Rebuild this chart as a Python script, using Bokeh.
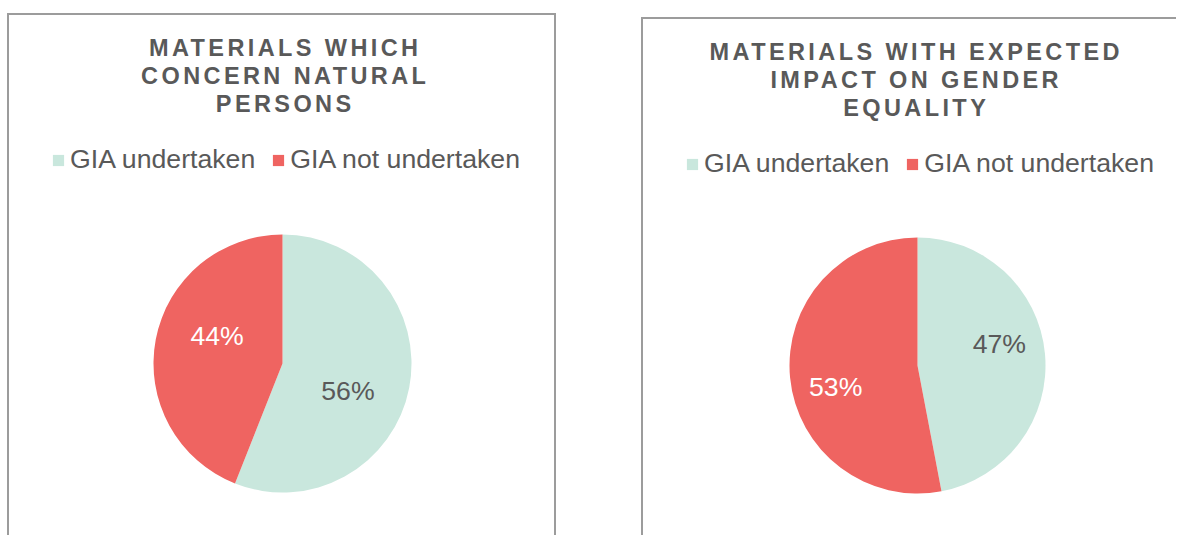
import math
from bokeh.plotting import figure
from bokeh.models import ColumnDataSource, Range1d, Spacer
from bokeh.layouts import row, column
from bokeh.core.properties import value
from bokeh.embed import file_html
from bokeh.resources import INLINE

# ---------------- data ----------------
categories = ["GIA undertaken", "GIA not undertaken"]
left_values = [56, 44]
right_values = [47, 53]
left_title = ["MATERIALS WHICH", "CONCERN NATURAL", "PERSONS"]
right_title = ["MATERIALS WITH EXPECTED", "IMPACT ON GENDER", "EQUALITY"]

# ---------------- style ----------------
slice_colors = ["#C9E7DD", "#EF6461"]
label_colors = ["#595959", "#FFFFFF"]
FONT = "Liberation Sans"
TEXT_COLOR = "#595959"
BORDER = "2px solid #9C9C9C"
LS = 3.4          # title letter spacing (px)
TITLE_FS = 23.5
TITLE_H = 122


def base_fig(width, height, xr, yr, styles=None):
    kw = dict(width=width, height=height, x_range=xr, y_range=yr, title=None,
              output_backend="svg", toolbar_location=None, min_border=0,
              x_axis_type=None, y_axis_type=None, outline_line_color=None,
              background_fill_color="white", border_fill_color="white")
    if styles:
        kw["styles"] = styles
    return figure(**kw)


def title_fig(lines, width, cx):
    h = TITLE_H
    p = base_fig(width, h, Range1d(0, width), Range1d(0, h),
                 styles={"letter-spacing": f"{LS}px"})
    ys = [h - 32 - 28 * i for i in range(len(lines))]
    offs = [-(len(s) - 1) * LS / 2 for s in lines]
    src = ColumnDataSource(dict(x=[cx] * len(lines), y=ys, t=lines, o=offs))
    p.text(x="x", y="y", text="t", x_offset="o", source=src,
           text_font=value(FONT), text_font_style="bold", text_font_size=f"{TITLE_FS}px",
           text_color=TEXT_COLOR, text_align="center", text_baseline="alphabetic")
    return p


def pie_fig(values, width, height, cx, cy, r, legend_x, label_r, label_rot):
    xr = Range1d(-cx / r, (width - cx) / r)
    yr = Range1d(-(height - cy) / r, cy / r)
    p = base_fig(width, height, xr, yr)
    total = float(sum(values))
    starts, ends = [], []
    a = math.pi / 2
    for v in values:
        starts.append(a)
        a -= 2 * math.pi * v / total
        ends.append(a)
    src = ColumnDataSource(dict(start=starts, end=ends, color=slice_colors, label=categories))
    p.wedge(x=0, y=0, radius=1, start_angle="start", end_angle="end", direction="clock",
            fill_color="color", line_color=None, source=src, legend_field="label")
    mids = [(s + e) / 2 + math.radians(label_rot) for s, e in zip(starts, ends)]
    lsrc = ColumnDataSource(dict(x=[label_r * math.cos(m) for m in mids],
                                 y=[label_r * math.sin(m) for m in mids],
                                 t=[f"{v}%" for v in values], c=label_colors))
    p.text(x="x", y="y", text="t", text_color="c", source=lsrc,
           text_font=value(FONT), text_font_size="26.67px",
           text_align="center", text_baseline="middle")
    lg = p.legend[0]
    lg.location = (legend_x, height - 38)
    lg.orientation = "horizontal"
    lg.glyph_width = 14
    lg.glyph_height = 14
    lg.label_standoff = 5
    lg.spacing = 16
    lg.padding = 0
    lg.margin = 0
    lg.border_line_color = None
    lg.background_fill_alpha = 0
    lg.label_text_font = FONT
    lg.label_text_font_size = "26.67px"
    lg.label_text_color = TEXT_COLOR
    return p


LW, RW = 545, 533
tL = title_fig(left_title, LW, 274)
pL = pie_fig(left_values, LW, 398, 273, 226, 129, 42, 0.55, -12)
tR = title_fig(right_title, RW, 271)
pR = pie_fig(right_values, RW, 394, 274, 224, 128, 42, 0.66, 9)

left_panel = column(tL, pL, styles={"border-top": BORDER, "border-left": BORDER,
                                    "border-right": BORDER})
right_panel = column(tR, pR, styles={"border-top": BORDER, "border-left": BORDER})

left_col = column(Spacer(width=LW, height=13), left_panel)
right_col = column(Spacer(width=RW, height=17), right_panel)
layout = row(Spacer(width=7, height=10), left_col, Spacer(width=85, height=10), right_col)

open("out.html", "w").write(file_html(layout, INLINE))
